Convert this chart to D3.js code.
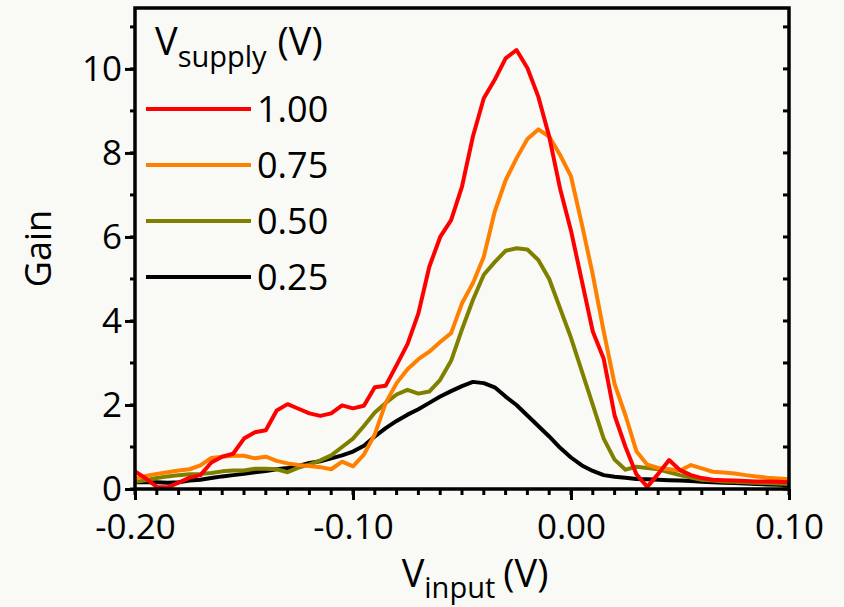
<!DOCTYPE html>
<html>
<head>
<meta charset="utf-8">
<script src="https://cdn.jsdelivr.net/npm/d3@7"></script>
<style>
  body { margin: 0; background: #f9f9f5; }
  svg { display: block; font-family: "Open Sans", sans-serif; }
</style>
</head>
<body>
<svg></svg>
<script>
// input voltage grid (V)
var vInput = [-0.200, -0.195, -0.190, -0.185, -0.180, -0.175, -0.170, -0.165, -0.160, -0.155,
              -0.150, -0.145, -0.140, -0.135, -0.130, -0.125, -0.120, -0.115, -0.110, -0.105,
              -0.100, -0.095, -0.090, -0.085, -0.080, -0.075, -0.070, -0.065, -0.060, -0.055,
              -0.050, -0.045, -0.040, -0.035, -0.030, -0.025, -0.020, -0.015, -0.010, -0.005,
               0.000,  0.005,  0.010,  0.015,  0.020,  0.025,  0.030,  0.035,  0.040,  0.045,
               0.050,  0.055,  0.060,  0.065,  0.070,  0.075,  0.080,  0.085,  0.090,  0.095,
               0.100];

var gain100 = [0.42, 0.25, 0.05, 0.04, 0.15, 0.27, 0.33, 0.63, 0.77, 0.84,
               1.20, 1.35, 1.40, 1.87, 2.02, 1.91, 1.80, 1.74, 1.80, 1.99,
               1.92, 1.98, 2.42, 2.46, 2.95, 3.45, 4.18, 5.29, 6.00, 6.40,
               7.20, 8.39, 9.30, 9.74, 10.25, 10.45, 10.02, 9.34, 8.39, 7.15,
               6.15, 4.95, 3.75, 3.10, 1.75, 1.00, 0.35, 0.05, 0.36, 0.69,
               0.45, 0.33, 0.26, 0.22, 0.21, 0.20, 0.19, 0.18, 0.18, 0.17,
               0.16];

var gain075 = [0.24, 0.31, 0.36, 0.40, 0.44, 0.47, 0.56, 0.74, 0.77, 0.79,
               0.79, 0.73, 0.77, 0.67, 0.61, 0.57, 0.55, 0.52, 0.47, 0.65,
               0.54, 0.82, 1.30, 2.05, 2.52, 2.85, 3.09, 3.27, 3.50, 3.71,
               4.42, 4.90, 5.53, 6.60, 7.35, 7.87, 8.33, 8.56, 8.39, 7.95,
               7.44, 6.30, 5.10, 3.75, 2.50, 1.75, 0.90, 0.58, 0.50, 0.47,
               0.44, 0.57, 0.49, 0.41, 0.39, 0.37, 0.33, 0.30, 0.27, 0.25,
               0.23];

var gain050 = [0.17, 0.21, 0.26, 0.30, 0.33, 0.35, 0.36, 0.38, 0.42, 0.44,
               0.44, 0.48, 0.48, 0.47, 0.40, 0.51, 0.58, 0.68, 0.80, 1.00,
               1.20, 1.50, 1.82, 2.05, 2.25, 2.36, 2.27, 2.32, 2.60, 3.05,
               3.80, 4.50, 5.10, 5.40, 5.67, 5.73, 5.70, 5.45, 5.00, 4.30,
               3.60, 2.80, 2.00, 1.20, 0.70, 0.46, 0.53, 0.50, 0.47, 0.40,
               0.33, 0.27, 0.22, 0.20, 0.18, 0.17, 0.16, 0.15, 0.14, 0.13,
               0.12];

var gain025 = [0.16, 0.16, 0.16, 0.15, 0.16, 0.20, 0.22, 0.26, 0.30, 0.33,
               0.36, 0.40, 0.43, 0.47, 0.50, 0.55, 0.62, 0.66, 0.73, 0.80,
               0.89, 1.03, 1.25, 1.45, 1.62, 1.77, 1.90, 2.05, 2.20, 2.33,
               2.45, 2.55, 2.52, 2.42, 2.20, 2.00, 1.75, 1.50, 1.25, 0.98,
               0.75, 0.56, 0.43, 0.33, 0.29, 0.27, 0.24, 0.23, 0.22, 0.21,
               0.20, 0.19, 0.17, 0.16, 0.15, 0.14, 0.13, 0.12, 0.11, 0.10,
               0.09];

var supplyLabels = ["1.00", "0.75", "0.50", "0.25"];
var seriesColors = ["#ff0000", "#ff8000", "#808000", "#000000"];

var xTicks = [-0.20, -0.10, 0.00, 0.10];
var xTickLabels = ["-0.20", "-0.10", "0.00", "0.10"];
var yTicks = [0, 2, 4, 6, 8, 10];

var series = [gain100, gain075, gain050, gain025].map(function (vals, i) {
    return {
        id: supplyLabels[i],
        color: seriesColors[i],
        values: vals.map(function (g, j) { return { v: vInput[j], gain: g }; })
    };
});

var W = 844, H = 607;
var margin = { top: 8, right: 55, bottom: 118, left: 135 };
var width = W - margin.left - margin.right;
var height = H - margin.top - margin.bottom;

var svg = d3.select("svg").attr("width", W).attr("height", H);
svg.append("rect").attr("width", W).attr("height", H).attr("fill", "#f9f9f5");

var g = svg.append("g").attr("transform", "translate(" + margin.left + "," + margin.top + ")");

var x = d3.scaleLinear().domain([-0.20, 0.10]).range([0, width]);
var y = d3.scaleLinear().domain([0, 11.45]).range([height, 0]);

var line = d3.line()
    .x(function (d) { return x(d.v); })
    .y(function (d) { return y(d.gain); });

// minor ticks
var xMinor = d3.range(-0.20, 0.1001, 0.01);
var yMinor = d3.range(0, 12, 1);

g.selectAll(".xminor").data(xMinor).enter().append("line")
    .attr("x1", function (d) { return x(d); }).attr("x2", function (d) { return x(d); })
    .attr("y1", height).attr("y2", height + 6)
    .attr("stroke", "#000").attr("stroke-width", 3);

g.selectAll(".yminor").data(yMinor).enter().append("line")
    .attr("x1", -5).attr("x2", 0)
    .attr("y1", function (d) { return y(d); }).attr("y2", function (d) { return y(d); })
    .attr("stroke", "#000").attr("stroke-width", 3);

g.selectAll(".yright").data(yMinor).enter().append("line")
    .attr("x1", width - 6).attr("x2", width)
    .attr("y1", function (d) { return y(d); }).attr("y2", function (d) { return y(d); })
    .attr("stroke", "#000").attr("stroke-width", 3);

// major ticks via axes
var xAxis = g.append("g")
    .attr("transform", "translate(0," + height + ")")
    .call(d3.axisBottom(x).tickValues(xTicks).tickFormat(function (d, i) { return xTickLabels[i]; })
        .tickSize(11).tickPadding(14));

var yAxis = g.append("g")
    .call(d3.axisLeft(y).tickValues(yTicks).tickFormat(d3.format("d")).tickSize(10).tickPadding(3));

[xAxis, yAxis].forEach(function (ax) {
    ax.select(".domain").remove();
    ax.selectAll(".tick line").attr("stroke", "#000").attr("stroke-width", 3);
    ax.selectAll(".tick text")
        .attr("fill", "#000")
        .style("font-family", "'Open Sans', sans-serif")
        .style("font-size", "35px");
});
yAxis.selectAll(".tick text").attr("dy", "0.34em");

// curves
g.selectAll(".curve")
    .data(series.slice().reverse())
    .enter().append("path")
    .attr("class", "curve")
    .attr("fill", "none")
    .attr("stroke", function (d) { return d.color; })
    .attr("stroke-width", 4)
    .attr("stroke-linejoin", "round")
    .attr("d", function (d) { return line(d.values); });

// frame
g.append("path")
    .attr("d", "M0,0V" + height + "H" + width + "V0Z")
    .attr("fill", "none")
    .attr("stroke", "#000")
    .attr("stroke-width", 3.5);

// legend
var legend = svg.append("g").attr("transform", "translate(146,0)");
var lt = legend.append("text").attr("x", 9).attr("y", 55)
    .style("font-size", "38px").attr("fill", "#000");
lt.append("tspan").text("V");
lt.append("tspan").attr("dy", 12).style("font-size", "29px").text("supply");
lt.append("tspan").attr("dy", -12).attr("dx", 11).text("(V)");

var items = legend.selectAll(".item").data(series).enter().append("g")
    .attr("transform", function (d, i) { return "translate(0," + (109 + i * 56) + ")"; });
items.append("line").attr("x1", 0).attr("x2", 105)
    .attr("stroke", function (d) { return d.color; }).attr("stroke-width", 4);
items.append("text").attr("x", 111).attr("dy", "0.36em")
    .style("font-size", "36px").attr("fill", "#000")
    .text(function (d) { return d.id; });

// axis titles
var xt = svg.append("text")
    .attr("x", margin.left + width / 2 + 13)
    .attr("y", 587)
    .attr("text-anchor", "middle")
    .style("font-size", "38px").attr("fill", "#000");
xt.append("tspan").text("V");
xt.append("tspan").attr("dy", 11).style("font-size", "29px").text("input");
xt.append("tspan").attr("dy", -11).attr("dx", 8).text("(V)");

svg.append("text")
    .attr("transform", "translate(51," + (margin.top + height / 2) + ") rotate(-90)")
    .attr("text-anchor", "middle")
    .style("font-size", "36px").attr("fill", "#000")
    .text("Gain");
</script>
</body>
</html>
